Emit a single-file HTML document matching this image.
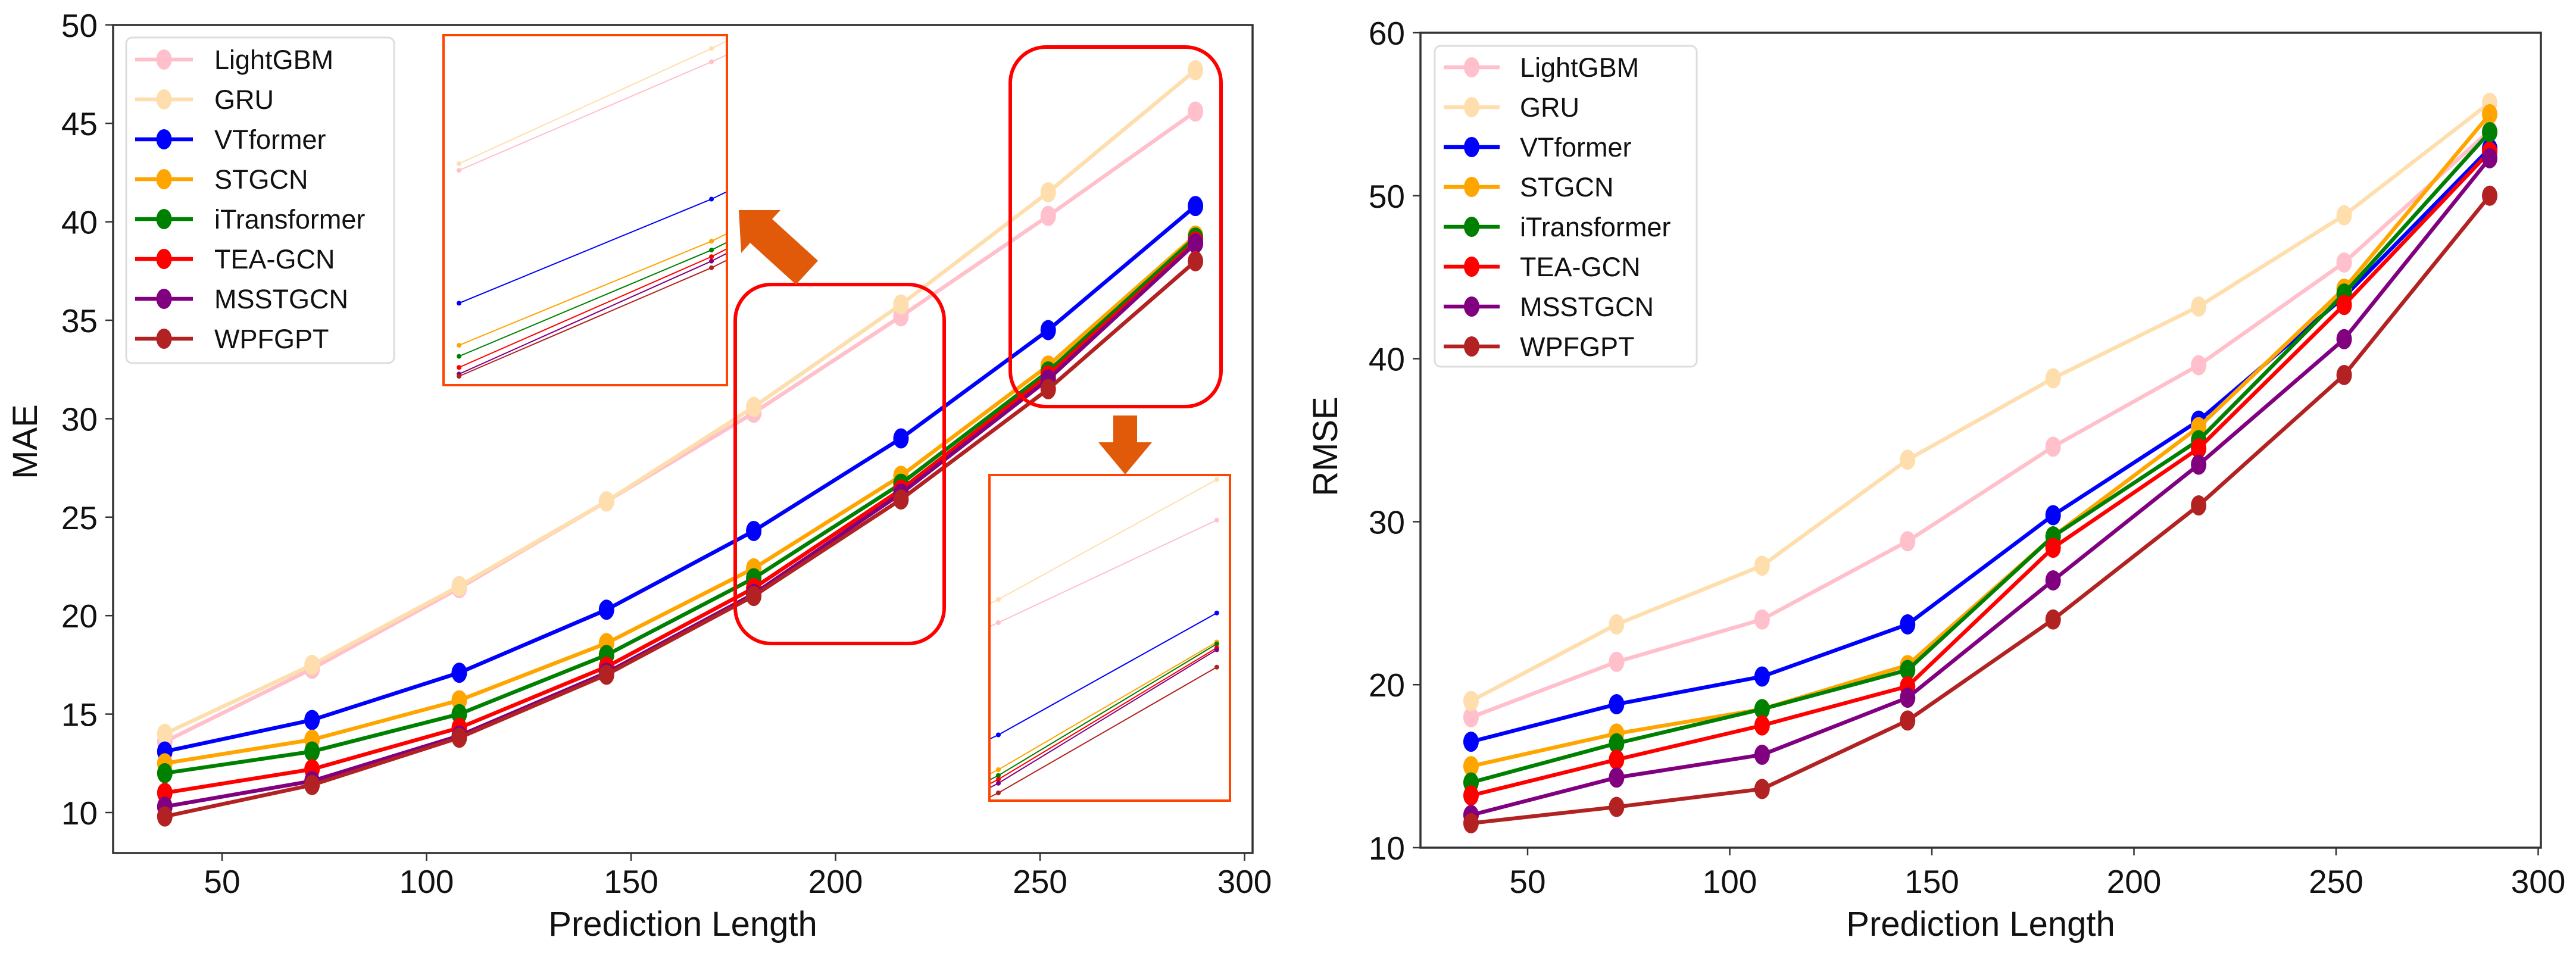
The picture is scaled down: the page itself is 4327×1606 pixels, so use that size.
<!DOCTYPE html>
<html><head><meta charset="utf-8"><style>
html,body{margin:0;padding:0;background:#fff;}
svg{display:block;font-family:"Liberation Sans",sans-serif;}
</style></head><body>
<svg id="fig" width="4327" height="1606" viewBox="0 0 4327 1606" xmlns="http://www.w3.org/2000/svg">
<rect width="4327" height="1606" fill="#fff"/>
<g id="left"></g>
<g id="right"></g>
</svg>
<script>
const xCats = [36,72,108,144,180,216,252,288];
const seriesNames = ["LightGBM","GRU","VTformer","STGCN","iTransformer","TEA-GCN","MSSTGCN","WPFGPT"];
const seriesColors = ["#ffc0cb","#ffdead","#0000ff","#ffa500","#008000","#ff0000","#800080","#b22222"];
const maeLightGBM = [13.6,17.3,21.4,25.8,30.3,35.2,40.3,45.6];
const maeGRU = [14.0,17.5,21.5,25.8,30.6,35.8,41.5,47.7];
const maeVTformer = [13.1,14.7,17.1,20.3,24.3,29.0,34.5,40.8];
const maeSTGCN = [12.5,13.7,15.7,18.6,22.4,27.1,32.7,39.3];
const maeITransformer = [12.0,13.1,15.0,18.0,21.9,26.7,32.4,39.2];
const maeTEAGCN = [11.0,12.2,14.3,17.4,21.4,26.4,32.2,39.0];
const maeMSSTGCN = [10.3,11.6,13.9,17.1,21.1,26.2,32.0,38.9];
const maeWPFGPT = [9.8,11.4,13.8,17.0,21.0,25.9,31.5,38.0];
const rmseLightGBM = [18.0,21.4,24.0,28.8,34.6,39.6,45.9,54.0];
const rmseGRU = [19.0,23.7,27.3,33.8,38.8,43.2,48.8,55.7];
const rmseVTformer = [16.5,18.8,20.5,23.7,30.4,36.2,43.8,52.9];
const rmseSTGCN = [15.0,17.0,18.5,21.2,29.1,35.8,44.3,55.0];
const rmseITransformer = [14.0,16.4,18.5,20.9,29.1,35.0,44.0,53.9];
const rmseTEAGCN = [13.2,15.4,17.5,19.9,28.4,34.5,43.3,52.7];
const rmseMSSTGCN = [12.0,14.3,15.7,19.2,26.4,33.5,41.2,52.3];
const rmseWPFGPT = [11.5,12.5,13.6,17.8,24.0,31.0,39.0,50.0];
const xTicks = [50,100,150,200,250,300];
const maeTicks = [10,15,20,25,30,35,40,45,50];
const rmseTicks = [10,20,30,40,50,60];

const maeData=[maeLightGBM,maeGRU,maeVTformer,maeSTGCN,maeITransformer,maeTEAGCN,maeMSSTGCN,maeWPFGPT];
const rmseData=[rmseLightGBM,rmseGRU,rmseVTformer,rmseSTGCN,rmseITransformer,rmseTEAGCN,rmseMSSTGCN,rmseWPFGPT];
const NS="http://www.w3.org/2000/svg";
function mk(parent,tag,attrs,text){const e=document.createElementNS(NS,tag);for(const k in attrs)e.setAttribute(k,attrs[k]);if(text!==undefined)e.textContent=text;parent.appendChild(e);return e;}

function chart(g,cfg){
  const X=v=>cfg.x0+(v-50)*cfg.xs;
  const Y=v=>cfg.y0-(v-cfg.ymin)*cfg.ys;
  const cid='clip'+cfg.id;
  const defs=mk(g,'defs',{});
  const cp=mk(defs,'clipPath',{id:cid});
  mk(cp,'rect',{x:cfg.L-20,y:cfg.T-20,width:cfg.R-cfg.L+40,height:cfg.B-cfg.T+40});
  xTicks.forEach(t=>{
    const tk=mk(g,'line',{x1:X(t),x2:X(t),y1:cfg.B,y2:cfg.B+13,stroke:'#333','stroke-width':2.5});
    
    
    const lb=mk(g,'text',{x:X(t),y:1500,'font-size':55,'text-anchor':'middle',fill:'#111'},String(t));
    
    
  });
  cfg.yTicks.forEach(t=>{
    const tk=mk(g,'line',{x1:cfg.L-13,x2:cfg.L,y1:Y(t),y2:Y(t),stroke:'#333','stroke-width':2.5});
    
    
    const lb=mk(g,'text',{x:cfg.L-26,y:Y(t)+20,'font-size':55,'text-anchor':'end',fill:'#111'},String(t));
    
    
  });
  const xt=mk(g,'text',{x:(cfg.L+cfg.R)/2,y:1572,'font-size':58,'text-anchor':'middle',fill:'#111'},'Prediction Length');
  
  
  const yt=mk(g,'text',{x:cfg.ytx,y:cfg.yty,'font-size':58,'text-anchor':'middle',fill:'#111',transform:`rotate(-90 ${cfg.ytx} ${cfg.yty})`},cfg.ylabel);
  
  
  const sg=mk(g,'g',{'clip-path':`url(#${cid})`});
  cfg.data.forEach((arr,i)=>{
    const pts=arr.map((v,j)=>X(xCats[j])+','+Y(v)).join(' ');
    const pl=mk(sg,'polyline',{points:pts,fill:'none',stroke:seriesColors[i],'stroke-width':6.5,'stroke-linejoin':'round'});
    
    
    arr.forEach((v,j)=>{
      const c=mk(sg,'ellipse',{cx:X(xCats[j]),cy:Y(v),rx:13,ry:17,fill:seriesColors[i]});
      
      
    });
  });
  const fr=mk(g,'rect',{x:cfg.L,y:cfg.T,width:cfg.R-cfg.L,height:cfg.B-cfg.T,fill:'none',stroke:'#333','stroke-width':3.5});
  
  
  const lg=mk(g,'g',{});
  
  
  mk(lg,'rect',{x:cfg.lgL,y:cfg.lgT,width:cfg.lgR-cfg.lgL,height:cfg.lgB-cfg.lgT,rx:10,fill:'#fff','fill-opacity':0.85,stroke:'#ddd','stroke-width':3});
  seriesNames.forEach((n,i)=>{
    const cy=cfg.lgRow0+i*67;
    const e=mk(lg,'g',{});
    
    
    mk(e,'line',{x1:cfg.hx1,x2:cfg.hx2,y1:cy,y2:cy,stroke:seriesColors[i],'stroke-width':6.5});
    mk(e,'ellipse',{cx:(cfg.hx1+cfg.hx2)/2,cy:cy,rx:13,ry:17,fill:seriesColors[i]});
    mk(e,'text',{x:cfg.tx,y:cy+16,'font-size':45,fill:'#111'},n);
  });
  return {X,Y};
}

const left=document.getElementById('left');
const right=document.getElementById('right');
chart(left,{id:'L',x0:373,xs:6.87,ymin:10,y0:1365,ys:33.08,L:190,R:2104,T:42,B:1433,yTicks:maeTicks,
  ytx:62,yty:742,ylabel:'MAE',data:maeData,lgL:212,lgT:63,lgR:662,lgB:610,lgRow0:100,hx1:227,hx2:324,tx:360});
chart(right,{id:'R',x0:2566,xs:6.79,ymin:10,y0:1424,ys:27.38,L:2386,R:4268,T:55,B:1424,yTicks:rmseTicks,
  ytx:2246,yty:750,ylabel:'RMSE',data:rmseData,lgL:2410,lgT:77,lgR:2850,lgB:616,lgRow0:113,hx1:2425,hx2:2519,tx:2553});

function inset(cfg){
  const g=mk(left,'g',{});
  
  
  const defs=mk(g,'defs',{});
  const cp=mk(defs,'clipPath',{id:cfg.name+'-clip'});
  mk(cp,'rect',{x:cfg.L,y:cfg.T,width:cfg.R-cfg.L,height:cfg.B-cfg.T});
  mk(g,'rect',{x:cfg.L,y:cfg.T,width:cfg.R-cfg.L,height:cfg.B-cfg.T,fill:'#fff'});
  const X=v=>cfg.xa+(v-cfg.va)*cfg.xs;
  const Y=v=>cfg.ya-(v-cfg.yv)*cfg.ys;
  const sg=mk(g,'g',{'clip-path':`url(#${cfg.name}-clip)`});
  maeData.forEach((arr,i)=>{
    const idx=cfg.idx;
    const pts=idx.map(j=>X(xCats[j])+','+Y(arr[j])).join(' ');
    const pl=mk(sg,'polyline',{points:pts,fill:'none',stroke:seriesColors[i],'stroke-width':2});
    
    
    idx.forEach(j=>{
      const c=mk(sg,'circle',{cx:X(xCats[j]),cy:Y(arr[j]),r:4,fill:seriesColors[i]});
      
      
    });
  });
  mk(g,'rect',{x:cfg.L,y:cfg.T,width:cfg.R-cfg.L,height:cfg.B-cfg.T,fill:'none',stroke:'#ff4500','stroke-width':4});
}
inset({name:'inset-mid',L:745,R:1221,T:59,B:647,xa:771,va:180,xs:11.78,ya:275,yv:30.6,ys:37.2,idx:[4,5,6]});
inset({name:'inset-end',L:1662,R:2066,T:798,B:1345,xa:1677,va:252,xs:10.19,ya:1007,yv:41.5,ys:32.5,idx:[5,6,7]});

[[1235,478,1586,1081,'highlight-box-mid'],[1697,79,2051,683,'highlight-box-end']].forEach(b=>{
  const r=mk(left,'rect',{x:b[0],y:b[1],width:b[2]-b[0],height:b[3]-b[1],rx:60,fill:'none',stroke:'#ff0000','stroke-width':6});
  
  
});
const a1=mk(left,'polygon',{points:'1374,438 1297,368 1311,353 1241,353 1245,425 1260,408 1337,478',fill:'#e05a0a'});


const a2=mk(left,'polygon',{points:'1870,698 1910,698 1910,743 1935,743 1890,797 1845,743 1870,743',fill:'#e05a0a'});


</script>
</body></html>
